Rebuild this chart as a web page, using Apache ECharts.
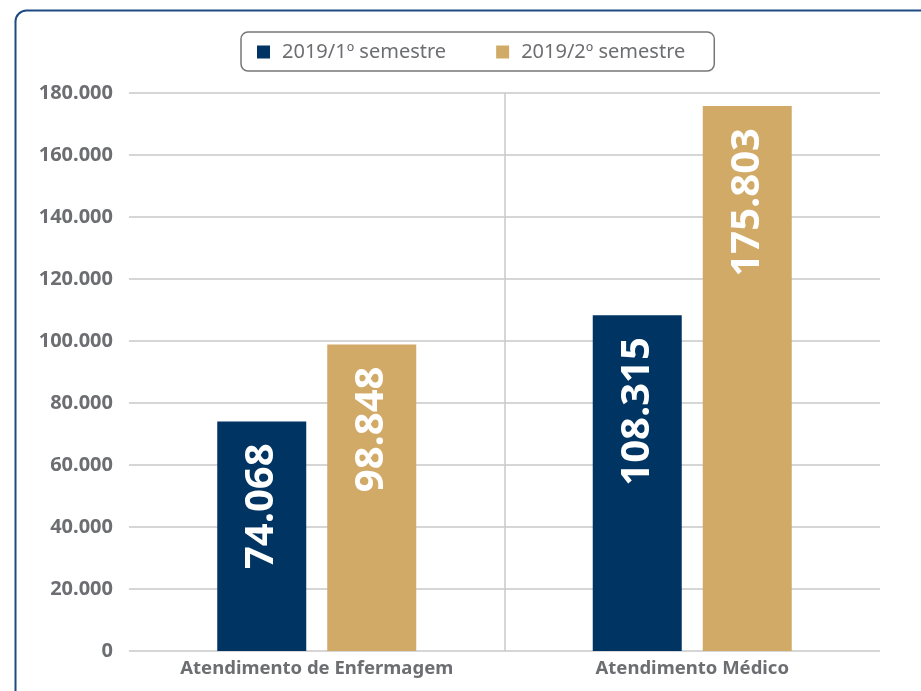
<!DOCTYPE html>
<html lang="pt-BR">
<head>
<meta charset="utf-8">
<title>Atendimentos 2019</title>
<script src="https://cdn.jsdelivr.net/npm/echarts@6/dist/echarts.min.js"></script>
<style>
  html, body { margin: 0; padding: 0; background: #fff; }
  #main { width: 921px; height: 691px; }
</style>
</head>
<body>
<div id="main"></div>
<script>
// dados
var categorias = ['Atendimento de Enfermagem', 'Atendimento Médico'];
var series1 = [74068, 108315];   // 2019/1º semestre
var series2 = [98848, 175803];   // 2019/2º semestre
var nomes = ['2019/1º semestre', '2019/2º semestre'];
var cores = ['#003462', '#d2aa68'];

function pontos(v) {
    return String(v).replace(/\B(?=(\d{3})+(?!\d))/g, '.');
}

var chart = echarts.init(document.getElementById('main'));

var rotulo = {
    show: true,
    position: 'insideTop',
    distance: 22,
    rotate: 90,
    align: 'right',
    verticalAlign: 'middle',
    color: '#fff',
    fontFamily: 'Noto Sans',
    fontWeight: 'bold',
    fontSize: 40,
    formatter: function (p) { return pontos(p.value); }
};

chart.setOption({
    textStyle: { fontFamily: 'Noto Sans' },
    animation: false,
    graphic: [{
        type: 'rect',
        left: 13,
        top: 8,
        shape: { width: 1000, height: 800, r: 11 },
        style: { fill: 'none', stroke: '#1d4a82', lineWidth: 2 },
        silent: true
    }],
    legend: {
        left: 241,
        top: 32,
        data: nomes,
        icon: 'rect',
        itemWidth: 13,
        itemHeight: 13,
        itemGap: 50,
        borderColor: '#777',
        borderWidth: 1.5,
        borderRadius: 7,
        padding: [10, 29, 9, 16],
        textStyle: {
            color: '#6d6e71',
            fontSize: 20,
            padding: [0, 0, 0, 7]
        }
    },
    grid: {
        left: 129,
        right: 41,
        top: 93,
        bottom: 40
    },
    xAxis: {
        type: 'category',
        data: categorias,
        axisLine: { show: false },
        axisTick: { show: false },
        axisLabel: {
            color: '#6d6e71',
            fontWeight: 'bold',
            fontSize: 18.5,
            margin: 8
        },
        splitLine: {
            show: true,
            lineStyle: { color: ['rgba(0,0,0,0)', '#c8c8c8', 'rgba(0,0,0,0)'], width: 1.5 }
        }
    },
    yAxis: {
        type: 'value',
        min: 0,
        max: 180000,
        interval: 20000,
        axisLine: { show: false },
        axisTick: { show: false },
        axisLabel: {
            color: '#6d6e71',
            fontWeight: 'bold',
            fontSize: 20,
            margin: 16,
            formatter: pontos
        },
        splitLine: { lineStyle: { color: '#c8c8c8', width: 1.5 } }
    },
    series: [{
        name: nomes[0],
        type: 'bar',
        data: series1,
        barWidth: 89,
        barGap: '23.6%',
        itemStyle: { color: cores[0] },
        label: rotulo
    }, {
        name: nomes[1],
        type: 'bar',
        data: series2,
        barWidth: 89,
        itemStyle: { color: cores[1] },
        label: rotulo
    }]
});
</script>
</body>
</html>
